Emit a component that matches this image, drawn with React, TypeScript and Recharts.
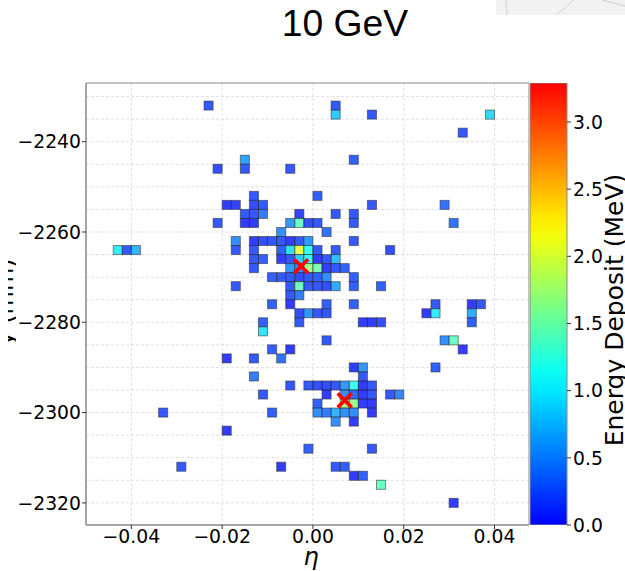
import React from 'react';
import { ScatterChart, Scatter, XAxis, YAxis, CartesianGrid, ReferenceArea, BarChart, Bar } from 'recharts';

// ---- axes / ticks ----
const X_DOMAIN: [number, number] = [-0.05, 0.0476];
const Y_DOMAIN: [number, number] = [-2324.9, -2227];
const X_TICKS = [-0.04, -0.02, 0, 0.02, 0.04];
const Y_TICKS = [-2320, -2300, -2280, -2260, -2240];
const Y_GRID = [-2320, -2315, -2310, -2305, -2300, -2295, -2290, -2285, -2280, -2275, -2270, -2265, -2260, -2255, -2250, -2245, -2240, -2235, -2230];
const CB_TICKS = [0, 0.5, 1.0, 1.5, 2.0, 2.5, 3.0];
const CB_MAX = 3.29;
const CELL_DETA = 0.002;
const CELL_DY = 2;

// ---- cells (eta, y, energy in MeV), listed row by row ----
const cellEta = [
  -0.023, 0.005,
  0.005, 0.013, 0.039,
  0.033,
  -0.015, 0.009,
  -0.021, -0.015, -0.005,
  -0.013, 0.001,
  -0.019, -0.017, -0.013, -0.011, 0.013, 0.029,
  -0.015, -0.013, -0.011, -0.003, 0.005, 0.009,
  -0.021, -0.015, -0.013, -0.005, -0.003, -0.001, 0.001, 0.009, 0.031,
  -0.007, 0.003,
  -0.017, -0.013, -0.011, -0.009, -0.007, -0.005, -0.003, -0.001, 0.009,
  -0.043, -0.041, -0.039, -0.017, -0.013, -0.007, -0.005, -0.003, -0.001, 0.001, 0.005, 0.017,
  -0.013, -0.011, -0.007, -0.005, -0.003, -0.001, 0.001, 0.003, 0.005,
  -0.013, -0.005, -0.003, -0.001, 0.001, 0.003, 0.005, 0.007,
  -0.009, -0.007, -0.005, -0.003, -0.001, 0.001, 0.003, 0.009,
  -0.017, -0.005, -0.003, -0.001, 0.001, 0.003, 0.005, 0.009, 0.015,
  -0.005, -0.003,
  -0.009, -0.005, 0.003, 0.009, 0.027, 0.035, 0.037,
  -0.003, -0.001, 0.001, 0.003, 0.025, 0.027, 0.035,
  -0.011, -0.003, 0.011, 0.013, 0.015, 0.035,
  -0.011,
  0.003, 0.029, 0.031,
  -0.009, -0.005, 0.033,
  -0.019, -0.013, -0.007,
  0.009, 0.011, 0.027,
  -0.013, 0.011,
  -0.005, -0.001, 0.001, 0.003, 0.005, 0.007, 0.009, 0.011, 0.013,
  -0.011, 0.003, 0.007, 0.009, 0.011, 0.013, 0.017, 0.019,
  0.001, 0.007, 0.009, 0.011, 0.013,
  -0.033, -0.009, 0.001, 0.003, 0.005, 0.007, 0.009, 0.013,
  0.005, 0.009,
  -0.019,
  -0.001, 0.013,
  -0.029, -0.007, 0.005, 0.007,
  0.009, 0.011,
  0.015,
  0.031,
];
const cellY = [
  -2232, -2232,
  -2234, -2234, -2234,
  -2238,
  -2244, -2244,
  -2246, -2246, -2246,
  -2252, -2252,
  -2254, -2254, -2254, -2254, -2254, -2254,
  -2256, -2256, -2256, -2256, -2256, -2256,
  -2258, -2258, -2258, -2258, -2258, -2258, -2258, -2258, -2258,
  -2260, -2260,
  -2262, -2262, -2262, -2262, -2262, -2262, -2262, -2262, -2262,
  -2264, -2264, -2264, -2264, -2264, -2264, -2264, -2264, -2264, -2264, -2264, -2264,
  -2266, -2266, -2266, -2266, -2266, -2266, -2266, -2266, -2266,
  -2268, -2268, -2268, -2268, -2268, -2268, -2268, -2268,
  -2270, -2270, -2270, -2270, -2270, -2270, -2270, -2270,
  -2272, -2272, -2272, -2272, -2272, -2272, -2272, -2272, -2272,
  -2274, -2274,
  -2276, -2276, -2276, -2276, -2276, -2276, -2276,
  -2278, -2278, -2278, -2278, -2278, -2278, -2278,
  -2280, -2280, -2280, -2280, -2280, -2280,
  -2282,
  -2284, -2284, -2284,
  -2286, -2286, -2286,
  -2288, -2288, -2288,
  -2290, -2290, -2290,
  -2292, -2292,
  -2294, -2294, -2294, -2294, -2294, -2294, -2294, -2294, -2294,
  -2296, -2296, -2296, -2296, -2296, -2296, -2296, -2296,
  -2298, -2298, -2298, -2298, -2298,
  -2300, -2300, -2300, -2300, -2300, -2300, -2300, -2300,
  -2302, -2302,
  -2304,
  -2308, -2308,
  -2312, -2312, -2312, -2312,
  -2314, -2314,
  -2316,
  -2320,
];
const cellEnergy = [
  0.2, 0.2,
  0.8, 0.2, 0.9,
  0.2,
  0.6, 0.25,
  0.15, 0.2, 0.2,
  0.2, 0.25,
  0.05, 0.08, 0.15, 0.2, 0.2, 0.35,
  0.2, 0.2, 0.4, 0.1, 0.2, 0.2,
  0.2, 0.05, 0.05, 0.55, 1.4, 0.15, 0.2, 0.2, 0.35,
  0.5, 0.35,
  0.5, 0.05, 0.15, 0.2, 0.2, 0.05, 0.2, 0.55, 0.2,
  1.0, 0.2, 0.7, 0.2, 0.2, 0.25, 0.95, 2.1, 1.1, 0.2, 0.2, 0.15,
  0.2, 0.25, 0.05, 0.2, 0.8, 1.1, 0.05, 0.2, 0.75,
  0.2, 0.55, 0.5, 1.7, 1.5, 0.05, 0.2, 0.25,
  0.25, 0.2, 0.2, 0.15, 0.2, 0.25, 0.5, 0.25,
  0.2, 0.2, 1.45, 0.2, 0.2, 0.15, 0.65, 0.25, 0.25,
  0.2, 0.4,
  0.25, 0.05, 0.25, 0.25, 0.2, 0.05, 0.2,
  0.15, 0.55, 0.2, 0.2, 0.05, 1.0, 0.65,
  0.25, 0.2, 0.05, 0.05, 0.15, 0.25,
  0.95,
  0.2, 0.5, 1.4,
  0.25, 0.05, 0.05,
  0.05, 0.2, 0.35,
  0.05, 0.55, 0.25,
  0.4, 0.2,
  0.2, 0.2, 0.15, 0.15, 0.2, 0.55, 1.15, 0.05, 0.2,
  0.2, 0.05, 0.5, 0.3, 0.05, 0.2, 0.2, 0.45,
  0.25, 1.7, 1.65, 0.05, 0.05,
  0.2, 0.25, 0.5, 0.4, 0.7, 0.5, 0.5, 0.05,
  0.5, 0.05,
  0.05,
  0.25, 0.2,
  0.2, 0.05, 0.2, 0.25,
  0.05, 0.25,
  1.4,
  0.05,
];

// ---- cluster centre markers ----
const markerEta = [-0.0026, 0.007];
const markerY = [-2267.6, -2297.3];

// ---- layout ----
const CHART_W = 625;
const CHART_H = 571;
const MARGIN = { top: 83, right: 96, bottom: 6, left: 6 };
const Y_AXIS_W = 80;
const X_AXIS_H = 40;
const PLOT_W = CHART_W - MARGIN.left - MARGIN.right - Y_AXIS_W;
const PLOT_H = CHART_H - MARGIN.top - MARGIN.bottom - X_AXIS_H;
const CELL_W = (PLOT_W / (X_DOMAIN[1] - X_DOMAIN[0])) * CELL_DETA;
const CELL_H = (PLOT_H / (Y_DOMAIN[1] - Y_DOMAIN[0])) * CELL_DY;

const FONT = '"DejaVu Sans", Verdana, sans-serif';
const TICK_FS = 18.8;

const cells = cellEta.map((eta, i) => ({ eta, y: cellY[i], e: cellEnergy[i] }));
const markers = markerEta.map((eta, i) => ({ eta, y: markerY[i] }));
const cbData = [{ name: 'cb', v: CB_MAX }];

function jet(v: number): string {
  const t = Math.max(0, Math.min(1, v / CB_MAX));
  const x = 0.125 + 0.75 * t;
  const c = (a: number) => Math.max(0, Math.min(1, a));
  const r = c(Math.min(4 * x - 1.5, -4 * x + 4.5));
  const g = c(Math.min(4 * x - 0.5, -4 * x + 3.5));
  const b = c(Math.min(4 * x + 0.5, -4 * x + 2.5));
  return `rgb(${Math.round(r * 255)},${Math.round(g * 255)},${Math.round(b * 255)})`;
}

const minus = (v: number, s: string) => (v < 0 ? '\u2212' : '') + s;
const fmtY = (v: number) => minus(v, String(Math.abs(v)));
const fmtX = (v: number) => minus(v, Math.abs(v).toFixed(2));
const fmtCb = (v: number) => v.toFixed(1);

const CellShape = (props: any) => {
  const { cx, cy, payload } = props;
  if (cx == null || cy == null) return null;
  return (
    <rect
      x={cx - CELL_W / 2}
      y={cy - CELL_H / 2}
      width={CELL_W}
      height={CELL_H}
      fill={jet(payload.e)}
      fillOpacity={0.8}
      stroke="#2a2a2a"
      strokeOpacity={0.55}
      strokeWidth={1}
    />
  );
};

const CrossShape = (props: any) => {
  const { cx, cy } = props;
  if (cx == null || cy == null) return null;
  const s = 7;
  return (
    <g stroke="#ff0000" strokeWidth={3.6}>
      <line x1={cx - s} y1={cy - s} x2={cx + s} y2={cy + s} />
      <line x1={cx - s} y1={cy + s} x2={cx + s} y2={cy - s} />
    </g>
  );
};

const tickStyle = { fontSize: TICK_FS, fill: '#000', fontFamily: FONT };

export default function App() {
  const stops = Array.from({ length: 21 }, (_, i) => i / 20);
  return (
    <div style={{ position: 'absolute', left: 0, top: 0, width: CHART_W, height: CHART_H, background: '#fff', overflow: 'hidden' }}>
      <div style={{ position: 'absolute', left: 0, top: 0 }}>
        <ScatterChart width={CHART_W} height={CHART_H} margin={MARGIN}>
          <CartesianGrid
            verticalValues={X_TICKS}
            horizontalValues={Y_GRID}
            stroke="#d8d8d8"
            strokeDasharray="3 2"
            strokeWidth={0.8}
          />
          <XAxis
            type="number"
            dataKey="eta"
            domain={X_DOMAIN}
            ticks={X_TICKS}
            tickFormatter={fmtX}
            allowDataOverflow
            height={X_AXIS_H}
            tick={tickStyle}
            tickSize={4}
            tickMargin={1}
            tickLine={{ stroke: '#333' }}
            axisLine={{ stroke: '#888' }}
            interval={0}
          />
          <YAxis
            type="number"
            dataKey="y"
            domain={Y_DOMAIN}
            ticks={Y_TICKS}
            tickFormatter={fmtY}
            allowDataOverflow
            width={Y_AXIS_W}
            tick={tickStyle}
            tickSize={4}
            tickMargin={1}
            tickLine={{ stroke: '#333' }}
            axisLine={{ stroke: '#888' }}
            interval={0}
          />
          <Scatter data={cells} shape={CellShape} isAnimationActive={false} />
          <Scatter data={markers} shape={CrossShape} isAnimationActive={false} />
          <ReferenceArea
            x1={X_DOMAIN[0]}
            x2={X_DOMAIN[1]}
            y1={Y_DOMAIN[0]}
            y2={Y_DOMAIN[1]}
            fill="none"
            fillOpacity={0}
            stroke="#888"
            strokeWidth={1}
            ifOverflow="visible"
          />
        </ScatterChart>
      </div>
      <div style={{ position: 'absolute', left: 530, top: 0 }}>
        <BarChart width={95} height={CHART_H} data={cbData} margin={{ top: 83, right: 0, bottom: 46, left: 0 }} barCategoryGap={0}>
          <defs>
            <linearGradient id="cbGrad" x1="0" y1="1" x2="0" y2="0">
              {stops.map((s) => (
                <stop key={s} offset={`${s * 100}%`} stopColor={jet(s * CB_MAX)} />
              ))}
            </linearGradient>
          </defs>
          <XAxis dataKey="name" type="category" hide />
          <YAxis
            orientation="right"
            type="number"
            domain={[0, CB_MAX]}
            ticks={CB_TICKS}
            tickFormatter={fmtCb}
            allowDataOverflow
            width={58}
            tick={tickStyle}
            tickSize={4}
            tickMargin={2}
            tickLine={{ stroke: '#333' }}
            axisLine={false}
            interval={0}
          />
          <Bar dataKey="v" fill="url(#cbGrad)" stroke="#888" strokeWidth={1} isAnimationActive={false} />
        </BarChart>
      </div>
      <svg width={CHART_W} height={CHART_H} style={{ position: 'absolute', left: 0, top: 0, pointerEvents: 'none' }}>
        <defs>
          <clipPath id="ylabClip">
            <rect x={8} y={0} width={8} height={CHART_H} />
          </clipPath>
        </defs>
        <rect x={496} y={0} width={129} height={15} fill="#f2f2f2" />
        <line x1={506} y1={0} x2={507} y2={15} stroke="#d0d0d0" strokeWidth={1} />
        <line x1={556} y1={15} x2={574} y2={0} stroke="#cfcfcf" strokeWidth={1} />
        <line x1={602} y1={0} x2={625} y2={6} stroke="#cfcfcf" strokeWidth={1} />
        <text x={345} y={36} textAnchor="middle" fontFamily='"Liberation Sans", Arial, Helvetica, sans-serif' fontSize={37.3} fill="#000">
          10 GeV
        </text>
        <text x={311} y={565} textAnchor="middle" fontFamily={FONT} fontStyle="italic" fontSize={24} fill="#000">
          η
        </text>
        <text transform="translate(623, 310) rotate(-90)" textAnchor="middle" fontFamily={FONT} fontSize={25} fill="#000">
          Energy Deposit (MeV)
        </text>
        <g clipPath="url(#ylabClip)">
          <text transform="translate(13, 302) rotate(-90)" textAnchor="middle" fontFamily={FONT} fontSize={24} fill="#000">
            y (mm)
          </text>
        </g>
      </svg>
    </div>
  );
}
